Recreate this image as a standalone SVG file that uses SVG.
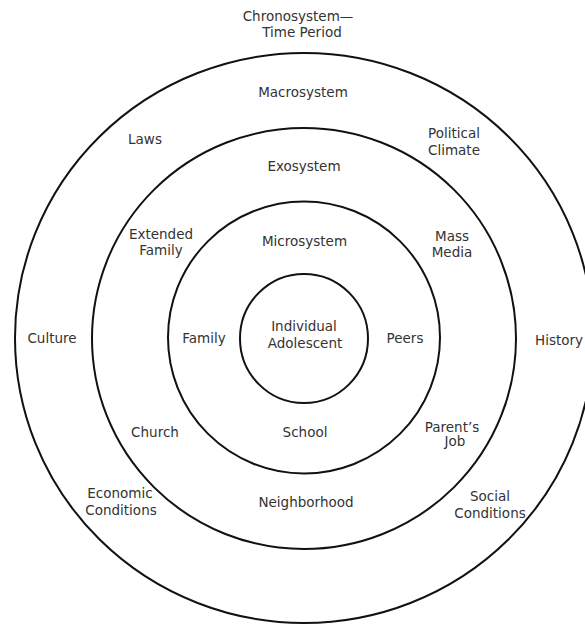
<svg xmlns="http://www.w3.org/2000/svg" width="585" height="624" viewBox="0 0 585 624">
<style>
.ring{fill:none;stroke:#111;stroke-width:2}
text{font-family:"DejaVu Sans","Verdana",sans-serif;font-size:13.5px;fill:#333;text-anchor:middle}
</style>
<rect width="585" height="624" fill="#fff"/>
<g id="connectors">
<ellipse id="ring-macro" class="ring" cx="304" cy="338" rx="289" ry="285"/>
<ellipse id="ring-exo" class="ring" cx="304" cy="338.5" rx="212" ry="210.5"/>
<ellipse id="ring-micro" class="ring" cx="304" cy="337.5" rx="136" ry="136"/>
<ellipse id="ring-individual" class="ring" cx="304" cy="338.5" rx="64" ry="64.5"/>
</g>
<g id="chronosystem"><text x="298" y="20.5">Chronosystem—</text><text x="302" y="36.5">Time Period</text></g>
<g id="macrosystem"><text x="303" y="97">Macrosystem</text></g>
<g id="laws"><text x="145" y="144">Laws</text></g>
<g id="political-climate"><text x="454" y="138">Political</text><text x="454" y="154.5">Climate</text></g>
<g id="exosystem"><text x="304" y="171">Exosystem</text></g>
<g id="extended-family"><text x="161" y="239">Extended</text><text x="161" y="255">Family</text></g>
<g id="microsystem"><text x="304.5" y="246">Microsystem</text></g>
<g id="mass-media"><text x="452" y="240.5">Mass</text><text x="452" y="257">Media</text></g>
<g id="culture"><text x="52" y="343">Culture</text></g>
<g id="family"><text x="204" y="342.5">Family</text></g>
<g id="individual"><text x="304" y="331">Individual</text><text x="305" y="347.5">Adolescent</text></g>
<g id="peers"><text x="405" y="343">Peers</text></g>
<g id="history"><text x="559" y="345">History</text></g>
<g id="church"><text x="155" y="437">Church</text></g>
<g id="school"><text x="305" y="437">School</text></g>
<g id="parents-job"><text x="452" y="431.5">Parent’s</text><text x="455" y="446">Job</text></g>
<g id="economic-conditions"><text x="120" y="498">Economic</text><text x="121" y="515">Conditions</text></g>
<g id="neighborhood"><text x="306" y="507">Neighborhood</text></g>
<g id="social-conditions"><text x="490" y="501">Social</text><text x="490" y="517.5">Conditions</text></g>
</svg>
